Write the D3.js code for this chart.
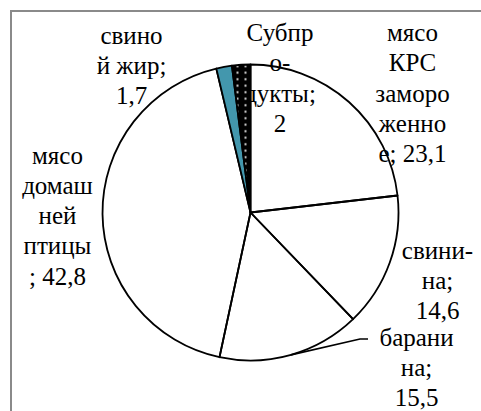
<!DOCTYPE html>
<html><head><meta charset="utf-8">
<script src="https://cdn.jsdelivr.net/npm/d3@7"></script>
<style>html,body{margin:0;padding:0;background:#fff;}svg{display:block;}
.lab text{font-family:"Liberation Serif","Times New Roman",Times,Tinos,"Noto Serif","DejaVu Serif","FreeSerif",serif;font-size:25px;}</style>
</head><body>
<script>
// ---- data ----
const categories = ["мясо КРС замороженное", "свинина", "баранина", "мясо домашней птицы", "свиной жир", "Субпродукты"];
const values = [23.1, 14.6, 15.5, 42.8, 1.7, 2];
const labelLines = [
  ["мясо", "КРС", "заморо", "женно", "е; 23,1"],
  ["свини-", "на;", "14,6"],
  ["барани", "на;", "15,5"],
  ["мясо", "домаш", "ней", "птицы", "; 42,8"],
  ["свино", "й жир;", "1,7"],
  ["Субпр", "о-", "дукты;", "2"]
];

// ---- layout / style ----
const W = 481, H = 411;
const cx = 250.5, cy = 212.5, R = 148;
const fills = ["none", "none", "none", "none", "#4397ad", "url(#dots)"];
// label anchor: [centre x, first baseline y]
const labelAnchor = [[412.5, 41], [437.5, 258.5], [416.5, 345.5], [57.5, 163.5], [131.5, 43.5], [280, 41]];
const lineH = 30.3;

const svg = d3.select("body").append("svg").attr("width", W).attr("height", H);
const defs = svg.append("defs");
const pat = defs.append("pattern").attr("id", "dots").attr("patternUnits", "userSpaceOnUse")
  .attr("width", 8).attr("height", 6.5).attr("x", 239).attr("y", 0);
pat.append("rect").attr("width", 8).attr("height", 6.5).attr("fill", "#000");
pat.append("rect").attr("x", 3).attr("y", 2.2).attr("width", 2).attr("height", 2).attr("fill", "#d8d8d8");

// frame
svg.append("rect").attr("x", 11).attr("y", 11).attr("width", 500).attr("height", 440)
  .attr("fill", "none").attr("stroke", "#8a8a8a").attr("stroke-width", 2);

// labels (drawn beneath pie as in reference)
const lab = svg.append("g").attr("class", "lab").attr("fill", "#000").attr("text-anchor", "middle");
labelLines.forEach((lines, i) => {
  const t = lab.append("text");
  lines.forEach((s, j) => {
    t.append("tspan").attr("x", labelAnchor[i][0]).attr("y", labelAnchor[i][1] + j * lineH).text(s);
  });
});

const pie = d3.pie().sort(null).value(d => d)(values);
const arc = d3.arc().innerRadius(0).outerRadius(R);
const g = svg.append("g").attr("transform", `translate(${cx},${cy})`);
g.selectAll("path").data(pie).join("path")
  .attr("d", arc)
  .attr("fill", (d, i) => fills[i])
  .attr("stroke", "#000").attr("stroke-width", 1.8).attr("stroke-linejoin", "round");

// leader line for баранина
const b = pie[2];
const mid = (b.startAngle + b.endAngle) / 2;
const p0 = [cx + R * Math.sin(mid), cy - R * Math.cos(mid)];
svg.append("polyline")
  .attr("points", [p0, [360, 339], [368, 339]].map(p => p.join(",")).join(" "))
  .attr("fill", "none").attr("stroke", "#000").attr("stroke-width", 1.6);
</script>
</body></html>
